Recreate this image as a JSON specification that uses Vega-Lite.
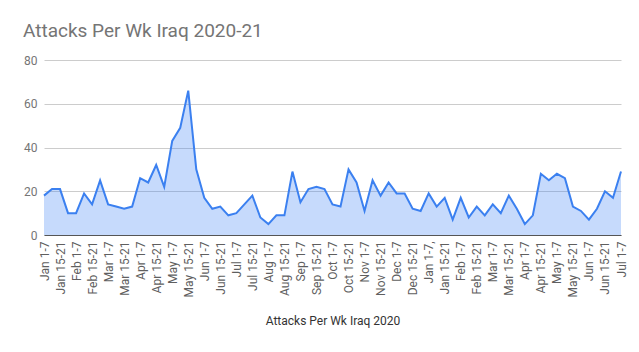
{
  "$schema": "https://vega.github.io/schema/vega-lite/v6.json",
  "width": 577,
  "height": 175,
  "autosize": "none",
  "padding": {"left": 44, "top": 60, "right": 18, "bottom": 117},
  "background": "white",
  "config": {"view": {"stroke": null}, "font": "Roboto"},
  "title": {"text": "Attacks Per Wk Iraq 2020-21", "anchor": "start", "frame": "group", "dx": -21, "font": "Roboto", "fontSize": 19, "fontWeight": "normal", "color": "#757575", "offset": 13},
  "data": {"values": [
    {"week": "2020 Jan 1-7", "attacks": 18},
    {"week": "2020 Jan 8-14", "attacks": 21},
    {"week": "2020 Jan 15-21", "attacks": 21},
    {"week": "2020 Jan 22-31", "attacks": 10},
    {"week": "2020 Feb 1-7", "attacks": 10},
    {"week": "2020 Feb 8-14", "attacks": 19},
    {"week": "2020 Feb 15-21", "attacks": 14},
    {"week": "2020 Feb 22-29", "attacks": 25},
    {"week": "2020 Mar 1-7", "attacks": 14},
    {"week": "2020 Mar 8-14", "attacks": 13},
    {"week": "2020 Mar 15-21", "attacks": 12},
    {"week": "2020 Mar 22-31", "attacks": 13},
    {"week": "2020 Apr 1-7", "attacks": 26},
    {"week": "2020 Apr 8-14", "attacks": 24},
    {"week": "2020 Apr 15-21", "attacks": 32},
    {"week": "2020 Apr 22-30", "attacks": 22},
    {"week": "2020 May 1-7", "attacks": 43},
    {"week": "2020 May 8-14", "attacks": 49},
    {"week": "2020 May 15-21", "attacks": 66},
    {"week": "2020 May 22-31", "attacks": 30},
    {"week": "2020 Jun 1-7", "attacks": 17},
    {"week": "2020 Jun 8-14", "attacks": 12},
    {"week": "2020 Jun 15-21", "attacks": 13},
    {"week": "2020 Jun 22-30", "attacks": 9},
    {"week": "2020 Jul 1-7", "attacks": 10},
    {"week": "2020 Jul 8-14", "attacks": 14},
    {"week": "2020 Jul 15-21", "attacks": 18},
    {"week": "2020 Jul 22-31", "attacks": 8},
    {"week": "2020 Aug 1-7", "attacks": 5},
    {"week": "2020 Aug 8-14", "attacks": 9},
    {"week": "2020 Aug 15-21", "attacks": 9},
    {"week": "2020 Aug 22-31", "attacks": 29},
    {"week": "2020 Sep 1-7", "attacks": 15},
    {"week": "2020 Sep 8-14", "attacks": 21},
    {"week": "2020 Sep 15-21", "attacks": 22},
    {"week": "2020 Sep 22-30", "attacks": 21},
    {"week": "2020 Oct 1-7", "attacks": 14},
    {"week": "2020 Oct 8-14", "attacks": 13},
    {"week": "2020 Oct 15-21", "attacks": 30},
    {"week": "2020 Oct 22-31", "attacks": 24},
    {"week": "2020 Nov 1-7", "attacks": 11},
    {"week": "2020 Nov 8-14", "attacks": 25},
    {"week": "2020 Nov 15-21", "attacks": 18},
    {"week": "2020 Nov 22-30", "attacks": 24},
    {"week": "2020 Dec 1-7", "attacks": 19},
    {"week": "2020 Dec 8-14", "attacks": 19},
    {"week": "2020 Dec 15-21", "attacks": 12},
    {"week": "2020 Dec 22-31", "attacks": 11},
    {"week": "2021 Jan 1-7,", "attacks": 19},
    {"week": "2021 Jan 8-14", "attacks": 13},
    {"week": "2021 Jan 15-21", "attacks": 17},
    {"week": "2021 Jan 22-31", "attacks": 7},
    {"week": "2021 Feb 1-7", "attacks": 17},
    {"week": "2021 Feb 8-14", "attacks": 8},
    {"week": "2021 Feb 15-21", "attacks": 13},
    {"week": "2021 Feb 22-28", "attacks": 9},
    {"week": "2021 Mar 1-7", "attacks": 14},
    {"week": "2021 Mar 8-14", "attacks": 10},
    {"week": "2021 Mar 15-21", "attacks": 18},
    {"week": "2021 Mar 22-31", "attacks": 12},
    {"week": "2021 Apr 1-7", "attacks": 5},
    {"week": "2021 Apr 8-14", "attacks": 9},
    {"week": "2021 Apr 15-21", "attacks": 28},
    {"week": "2021 Apr 22-30", "attacks": 25},
    {"week": "2021 May 1-7", "attacks": 28},
    {"week": "2021 May 8-14", "attacks": 26},
    {"week": "2021 May 15-21", "attacks": 13},
    {"week": "2021 May 22-31", "attacks": 11},
    {"week": "2021 Jun 1-7", "attacks": 7},
    {"week": "2021 Jun 8-14", "attacks": 12},
    {"week": "2021 Jun 15-21", "attacks": 20},
    {"week": "2021 Jun 22-30", "attacks": 17},
    {"week": "2021 Jul 1-7", "attacks": 29}
  ]},
  "encoding": {
    "x": {
      "field": "week", "type": "ordinal", "sort": null,
      "scale": {"type": "point", "padding": 0},
      "title": "Attacks Per Wk Iraq 2020",
      "axis": {
        "values": ["2020 Jan 1-7","2020 Jan 15-21","2020 Feb 1-7","2020 Feb 15-21","2020 Mar 1-7","2020 Mar 15-21","2020 Apr 1-7","2020 Apr 15-21","2020 May 1-7","2020 May 15-21","2020 Jun 1-7","2020 Jun 15-21","2020 Jul 1-7","2020 Jul 15-21","2020 Aug 1-7","2020 Aug 15-21","2020 Sep 1-7","2020 Sep 15-21","2020 Oct 1-7","2020 Oct 15-21","2020 Nov 1-7","2020 Nov 15-21","2020 Dec 1-7","2020 Dec 15-21","2021 Jan 1-7,","2021 Jan 15-21","2021 Feb 1-7","2021 Feb 15-21","2021 Mar 1-7","2021 Mar 15-21","2021 Apr 1-7","2021 Apr 15-21","2021 May 1-7","2021 May 15-21","2021 Jun 1-7","2021 Jun 15-21","2021 Jul 1-7"],
        "labelExpr": "slice(datum.label, 5)",
        "labelAngle": 270,
        "labelAlign": "right",
        "labelBaseline": "middle",
        "labelFont": "Roboto",
        "labelFontSize": 12,
        "labelColor": "#5f5f5f",
        "labelPadding": 6,
        "labelOverlap": false,
        "ticks": false,
        "domainColor": "#555555",
        "domainWidth": 1,
        "grid": false,
        "titleFont": "Roboto",
        "titleFontSize": 12,
        "titleFontWeight": "normal",
        "titleColor": "#333333",
        "titlePadding": 19
      }
    },
    "y": {
      "field": "attacks", "type": "quantitative",
      "scale": {"domain": [0, 80]},
      "title": null,
      "axis": {
        "values": [0, 20, 40, 60, 80],
        "domain": false,
        "ticks": false,
        "gridColor": "#cccccc",
        "labelFont": "Roboto",
        "labelFontSize": 12,
        "labelColor": "#757575",
        "labelPadding": 7
      }
    }
  },
  "layer": [
    {"mark": {"type": "area", "color": "#4285f4", "opacity": 0.3}},
    {"mark": {"type": "line", "color": "#3b80f0", "strokeWidth": 2}}
  ]
}
